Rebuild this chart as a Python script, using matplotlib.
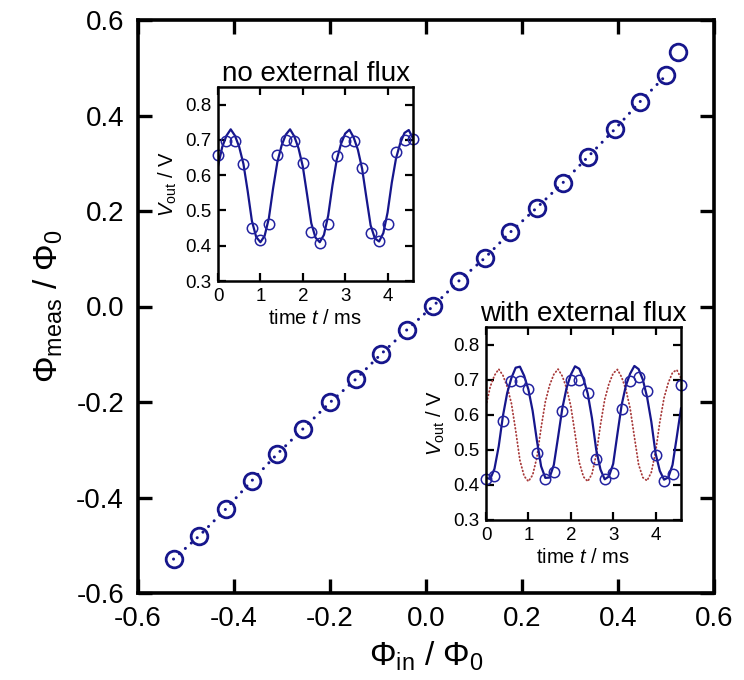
import numpy as np
import matplotlib as mpl
mpl.use("Agg")
import matplotlib.pyplot as plt

plt.rcParams["font.family"] = ["Liberation Sans", "DejaVu Sans"]
plt.rcParams["mathtext.fontset"] = "custom"
plt.rcParams["mathtext.rm"] = "Liberation Sans"
plt.rcParams["mathtext.it"] = "Liberation Sans:italic"
plt.rcParams["axes.unicode_minus"] = False

NAVY = "#16168c"
RED = "#a83a3a"

# main panel: measured vs applied flux
phi_in = [-0.526, -0.472, -0.417, -0.363, -0.310, -0.256, -0.200, -0.146, -0.094, -0.040,
          0.015, 0.069, 0.123, 0.175, 0.231, 0.285, 0.338, 0.394, 0.446, 0.501, 0.526]
phi_meas = [-0.529, -0.480, -0.424, -0.365, -0.309, -0.256, -0.201, -0.152, -0.100, -0.049,
            0.001, 0.054, 0.102, 0.155, 0.207, 0.259, 0.314, 0.372, 0.429, 0.485, 0.534]

# insets: sampled output voltage (t in ms)
t_meas = [0.0, 0.2, 0.4, 0.6, 0.8, 1.0, 1.2, 1.4, 1.6, 1.8, 2.0, 2.2,
          2.4, 2.6, 2.8, 3.0, 3.2, 3.4, 3.6, 3.8, 4.0, 4.2, 4.4, 4.6]
v_noflux = [0.658, 0.698, 0.698, 0.632, 0.449, 0.416, 0.461, 0.656, 0.701, 0.698, 0.635, 0.438,
            0.409, 0.463, 0.653, 0.698, 0.698, 0.620, 0.436, 0.414, 0.463, 0.665, 0.700, 0.703]
v_flux = [0.416, 0.425, 0.582, 0.697, 0.697, 0.673, 0.490, 0.416, 0.438, 0.611, 0.698, 0.698,
          0.662, 0.473, 0.416, 0.435, 0.615, 0.697, 0.708, 0.668, 0.485, 0.412, 0.431, 0.684]

# fitted curves
t_fit = [0.0, 0.1, 0.2, 0.3, 0.4, 0.5, 0.6, 0.7, 0.8, 0.9, 1.0, 1.1, 1.2, 1.3, 1.4, 1.5,
         1.6, 1.7, 1.8, 1.9, 2.0, 2.1, 2.2, 2.3, 2.4, 2.5, 2.6, 2.7, 2.8, 2.9, 3.0, 3.1,
         3.2, 3.3, 3.4, 3.5, 3.6, 3.7, 3.8, 3.9, 4.0, 4.1, 4.2, 4.3, 4.4, 4.5, 4.6]
fit_noflux = [0.625, 0.680, 0.712, 0.730, 0.712, 0.680, 0.632, 0.555, 0.470, 0.425, 0.410,
              0.428, 0.478, 0.563, 0.637, 0.684, 0.715, 0.730, 0.710, 0.676, 0.625, 0.546,
              0.464, 0.423, 0.410, 0.431, 0.486, 0.571, 0.643, 0.688, 0.718, 0.729, 0.707,
              0.672, 0.618, 0.537, 0.458, 0.421, 0.412, 0.436, 0.494, 0.579, 0.648, 0.691,
              0.720, 0.728, 0.704]
fit_flux = [0.420, 0.417, 0.446, 0.510, 0.597, 0.662, 0.705, 0.734, 0.737, 0.711, 0.672,
            0.611, 0.527, 0.453, 0.420, 0.421, 0.457, 0.536, 0.618, 0.676, 0.714, 0.738,
            0.731, 0.702, 0.660, 0.590, 0.500, 0.444, 0.416, 0.424, 0.460, 0.545, 0.628,
            0.683, 0.717, 0.739, 0.730, 0.700, 0.650, 0.580, 0.490, 0.440, 0.415, 0.421,
            0.457, 0.536, 0.618]

W, H = 744, 680
fig = plt.figure(figsize=(W / 100, H / 100), dpi=100)


def px_axes(x0, y0, x1, y1):
    return fig.add_axes([x0 / W, 1 - y1 / H, (x1 - x0) / W, (y1 - y0) / H])


ax = px_axes(138, 20, 714, 593)
ax.plot(phi_in[:-1], phi_meas[:-1], color=NAVY, lw=2.2, ls=(0, (0.01, 2.6)),
        dash_capstyle="round")
ax.plot(phi_in, phi_meas, "o", ms=12, mfc="none", mec=NAVY, mew=2.0, ls="none")
ax.set_xlim(-0.6, 0.6)
ax.set_ylim(-0.6, 0.6)
ticks = np.round(np.arange(-0.6, 0.61, 0.2), 1)
ax.set_xticks(ticks)
ax.set_yticks(ticks)
ax.set_xticklabels([f"{v:.1f}" for v in ticks])
ax.set_yticklabels([f"{v:.1f}" for v in ticks])
ax.tick_params(direction="in", length=10, width=2.4, labelsize=20, top=True, right=True)
ax.tick_params(axis="x", pad=9)
ax.tick_params(axis="y", pad=10)
for s in ax.spines.values():
    s.set_linewidth(2.6)
ax.set_xlabel(r"$\Phi_{\rm in}$ / $\Phi_0$", fontsize=24, labelpad=6)
ax.set_ylabel(r"$\Phi_{\rm meas}$ / $\Phi_0$", fontsize=24, labelpad=8)


def inset(box, title, vmeas, fit, ref=None):
    a = px_axes(*box)
    if ref is not None:
        a.plot(t_fit, ref, color=RED, lw=1.3, ls=(0, (0.4, 1.6)), dash_capstyle="round")
    a.plot(t_fit, fit, color=NAVY, lw=1.6)
    a.plot(t_meas, vmeas, "o", ms=7.5, mfc="none", mec="#2323a0", mew=1.1, clip_on=False)
    a.set_xlim(0, 4.6)
    a.set_ylim(0.3, 0.85)
    a.set_xticks([0, 1, 2, 3, 4])
    a.set_yticks([0.3, 0.4, 0.5, 0.6, 0.7, 0.8])
    a.set_yticklabels(["0.3", "0.4", "0.5", "0.6", "0.7", "0.8"])
    a.tick_params(direction="in", length=6, width=1.6, labelsize=13.5, top=True, right=True,
                  pad=5)
    for s in a.spines.values():
        s.set_linewidth(1.8)
    a.set_title(title, fontsize=20, pad=4)
    a.set_xlabel("time $t$ / ms", fontsize=14.5, labelpad=3)
    a.set_ylabel(r"$V_{\rm out}$ / V", fontsize=14.5, labelpad=4)
    return a


inset((218, 87, 413, 281), "no external flux", v_noflux, fit_noflux)
inset((486, 327, 681, 520), "with external flux", v_flux, fit_flux, ref=fit_noflux)

fig.savefig("out.png", dpi=100)
